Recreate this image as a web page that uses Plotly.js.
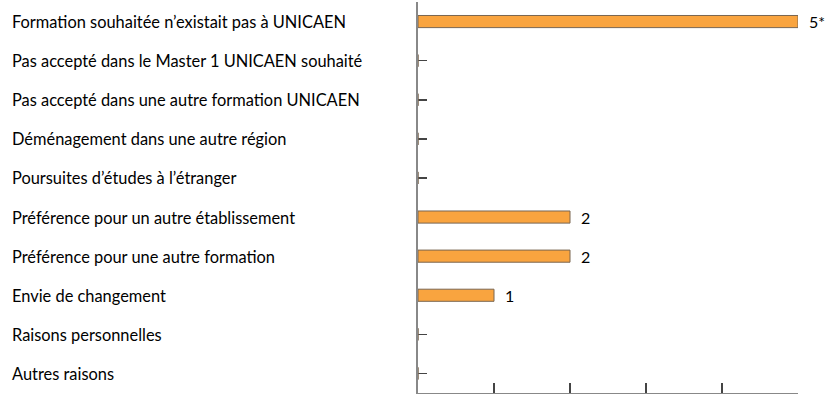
<!DOCTYPE html>
<html><head><meta charset="utf-8">
<script src="https://cdn.plot.ly/plotly-3.0.1.min.js"></script>
<style>html,body{margin:0;padding:0;background:#fff;}#chart{width:829px;height:394px;}</style>
</head><body><div id="chart"></div>
<script>
const categories = [
  "Formation souhaitée n’existait pas à UNICAEN",
  "Pas accepté dans le Master 1 UNICAEN souhaité",
  "Pas accepté dans une autre formation UNICAEN",
  "Déménagement dans une autre région",
  "Poursuites d’études à l’étranger",
  "Préférence pour un autre établissement",
  "Préférence pour une autre formation",
  "Envie de changement",
  "Raisons personnelles",
  "Autres raisons"
];
const values = [5, 0, 0, 0, 0, 2, 2, 1, 0, 0];
const valueLabels = ["5*", "", "", "", "", "2", "2", "1", "", ""];
const xTicks = [0, 1, 2, 3, 4, 5];

const fontFam = "Lato, 'Noto Sans', sans-serif";
const L = 418, R = 31;
const plotW = 829 - L - R;

const trace = {
  type: 'bar',
  orientation: 'h',
  x: values,
  y: categories,
  width: 0.31,
  marker: {color: '#F9A43F', line: {color: '#7a6650', width: 1}},
  text: valueLabels.map(t => t ? '\u2002' + t : ''),
  textposition: 'outside',
  constraintext: 'none',
  cliponaxis: false,
  textfont: {family: fontFam, size: 16, color: '#000'},
  hoverinfo: 'skip'
};

const annotations = categories.map(c => ({
  xref: 'paper', yref: 'y', x: (10 - L) / plotW, y: c,
  xanchor: 'left', yanchor: 'middle', text: c, showarrow: false,
  font: {family: fontFam, size: 16.4, color: '#000'}
}));

const layout = {
  width: 829, height: 394,
  margin: {l: L, r: R, t: 2, b: 1, pad: 0},
  paper_bgcolor: '#fff', plot_bgcolor: '#fff',
  showlegend: false,
  xaxis: {
    range: [0, 5], tickvals: xTicks, showticklabels: false,
    ticks: 'inside', ticklen: 10, tickcolor: '#444', tickwidth: 1.5,
    showline: true, linecolor: '#888', linewidth: 1.5,
    showgrid: false, zeroline: false, fixedrange: true, layer: 'below traces'
  },
  yaxis: {
    autorange: 'reversed', showticklabels: false,
    ticks: 'inside', ticklen: 9, tickcolor: '#444', tickwidth: 1.5,
    showline: true, linecolor: '#888', linewidth: 2,
    showgrid: false, zeroline: false, fixedrange: true, layer: 'below traces'
  },
  annotations: annotations
};

Plotly.newPlot('chart', [trace], layout, {displayModeBar: false, staticPlot: true});
</script></body></html>
